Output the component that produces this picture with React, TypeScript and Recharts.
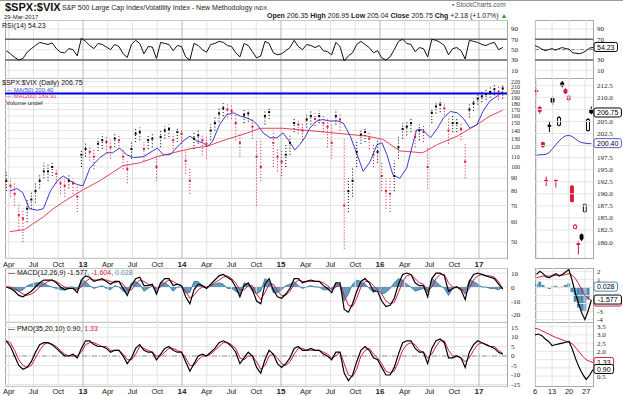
import React from 'react';
import {
  ComposedChart, Line, Scatter, ErrorBar, Area, Bar, Cell,
  XAxis, YAxis, CartesianGrid, ReferenceLine,
} from 'recharts';

const FONT = 'Liberation Sans, Arial, Helvetica, sans-serif';
const RED = '#d8183c';
const BLUE_MA = '#3b3bd0';
const RED_MA = '#e8405a';
const HIST = '#4a8ab5';

const closes = [
  88, 84, 78, 64, 62, 68, 74, 80, 88, 96, 96, 100, 94, 86, 84, 88, 86, 76,
  112, 118, 115, 110, 124, 128, 126, 120, 130, 128, 110, 98, 118, 136, 138, 118, 128, 130, 100, 132, 140, 142, 128, 138,
  136, 106, 88, 130, 134, 128, 124, 140, 150, 164, 172, 170, 168, 150, 125, 162, 164, 145, 110, 100, 160, 166, 125, 110,
  105, 112, 125, 150, 148, 140, 155, 160, 156, 160, 150, 145, 125, 160, 155, 70, 80, 88, 115, 135, 138, 130, 112, 115,
  92, 80, 78, 92, 120, 142, 145, 150, 132, 140, 138, 100, 165, 175, 178, 172, 140, 150, 150, 142, 105, 170, 180, 188,
  192, 196, 200, 205, 200, 206.75,
];
const lows = [
  80, 76, 70, 56, 50, 60, 68, 72, 82, 90, 88, 92, 86, 78, 76, 82, 78, 66,
  100, 110, 106, 98, 116, 118, 114, 108, 120, 118, 98, 86, 108, 126, 128, 106, 118, 120, 88, 120, 130, 132, 118, 126,
  124, 94, 78, 118, 124, 112, 108, 128, 140, 152, 160, 158, 156, 128, 110, 150, 152, 130, 70, 88, 148, 156, 100, 96,
  92, 100, 112, 138, 136, 128, 144, 148, 146, 150, 138, 120, 108, 148, 140, 47, 66, 76, 100, 124, 126, 118, 100, 104,
  80, 68, 66, 80, 108, 130, 134, 138, 120, 128, 126, 82, 150, 164, 166, 162, 124, 138, 138, 128, 90, 158, 168, 178,
  182, 186, 190, 194, 186, 188,
];
const highs = [
  95, 90, 86, 72, 68, 74, 80, 86, 94, 104, 102, 104, 98, 92, 90, 94, 90, 84,
  118, 124, 122, 118, 130, 136, 132, 128, 136, 134, 118, 106, 126, 142, 144, 126, 134, 136, 112, 140, 146, 148, 136, 144,
  142, 116, 100, 138, 140, 136, 132, 148, 158, 172, 180, 178, 176, 162, 136, 170, 170, 156, 128, 130, 168, 172, 140, 120,
  118, 124, 136, 158, 156, 150, 162, 168, 164, 168, 160, 155, 150, 170, 164, 130, 90, 100, 128, 142, 144, 138, 124, 128,
  104, 90, 90, 106, 132, 150, 152, 156, 142, 148, 146, 120, 172, 182, 186, 180, 156, 160, 158, 150, 125, 178, 188, 196,
  202, 206, 210, 214, 212, 212,
];
const rsi = [
  48, 42, 35, 30, 33, 45, 52, 58, 64, 62, 60, 63, 52, 45, 44, 52, 50, 38,
  72, 66, 58, 52, 62, 60, 55, 50, 60, 56, 42, 35, 60, 68, 62, 42, 56, 55, 33, 64, 62, 60, 48, 58,
  56, 36, 30, 62, 58, 50, 45, 60, 62, 66, 64, 58, 56, 44, 36, 62, 58, 46, 34, 38, 66, 62, 44, 40,
  42, 48, 54, 68, 56, 50, 60, 58, 54, 58, 48, 46, 40, 64, 56, 28, 38, 44, 60, 66, 60, 54, 44, 48,
  34, 30, 36, 50, 66, 70, 62, 60, 46, 54, 52, 36, 70, 68, 64, 58, 40, 52, 54, 48, 32, 68, 66, 64,
  60, 58, 62, 64, 50, 54.23,
];
const macd = [
  0, -1, -3, -6, -7, -5, -3, 0, 3, 5, 5, 5, 3, 0, -2, -1, -1, -4,
  5, 8, 7, 4, 5, 6, 4, 2, 4, 4, -1, -6, 1, 6, 7, 1, 1, 2, -5, 3, 6, 6, 1, 2,
  1, -7, -12, -2, 2, 1, -1, 2, 5, 8, 9, 7, 5, 0, -7, 1, 3, -2, -10, -12, 2, 6, -2, -7,
  -8, -5, -1, 6, 6, 3, 4, 5, 4, 4, 1, -1, -4, 3, 3, -16, -18, -12, -3, 4, 6, 3, -3, -3,
  -10, -14, -13, -8, 2, 9, 10, 9, 3, 1, 1, -7, 6, 10, 10, 8, -3, -1, 0, -2, -9, 4, 9, 10,
  9, 8, 7, 6, 2, -1.577,
];
const macdSignal = [
  0, 0, -1, -3, -5, -6, -5, -3, 0, 2, 4, 5, 4, 2, 0, -1, -1, -2,
  0, 4, 6, 5, 5, 5, 5, 4, 3, 4, 2, -2, -2, 2, 5, 4, 2, 1, -1, 0, 3, 5, 4, 2,
  1, -3, -8, -6, -2, 0, 0, 1, 3, 5, 7, 8, 6, 3, -2, -2, 1, 1, -5, -9, -4, 2, 2, -3,
  -6, -6, -3, 2, 5, 4, 4, 4, 4, 4, 3, 1, -2, 0, 2, -6, -13, -14, -8, 0, 4, 4, 1, -2,
  -5, -10, -12, -11, -4, 4, 8, 9, 6, 3, 2, -3, 0, 6, 9, 9, 3, 0, 0, -1, -5, -1, 5, 8,
  9, 8, 8, 7, 4, -1.604,
];
const macdHist = [
  0, -1, -2, -3, -2, 1, 2, 3, 3, 3, 1, 0, -1, -2, -2, 0, 0, -2,
  5, 4, 1, -1, 0, 1, -1, -2, 1, 0, -3, -4, 3, 4, 2, -3, -1, 1, -4, 3, 3, 1, -3, 0,
  0, -4, -4, 4, 4, 1, -1, 1, 2, 3, 2, -1, -1, -3, -5, 3, 2, -3, -5, -3, 6, 4, -4, -4,
  -2, 1, 2, 4, 1, -1, 0, 1, 0, 0, -2, -2, -2, 3, 1, -10, -5, 2, 5, 4, 2, -1, -4, -1,
  -5, -4, -1, 3, 6, 5, 2, 0, -3, -2, -1, -4, 6, 4, 1, -1, -6, -1, 0, -1, -4, 5, 4, 2,
  0, 0, -1, -1, -2, 0.028,
];
const pmo = [
  8, 5, 0, -5, -7, -6, -3, 2, 6, 7, 7, 6, 4, 2, 0, 0, 1, -1,
  4, 8, 8, 6, 5, 5, 4, 2, 3, 3, 0, -4, -1, 4, 6, 3, 2, 2, -2, 1, 4, 5, 3, 2,
  2, -3, -8, -4, 0, 1, 0, 2, 4, 7, 8, 7, 5, 2, -4, -1, 2, 0, -6, -9, -2, 3, 1, -4,
  -6, -4, -1, 4, 5, 3, 3, 4, 3, 3, 1, 0, -2, 2, 2, -9, -13, -10, -3, 3, 5, 3, -1, -2,
  -6, -10, -10, -6, 1, 7, 8, 8, 4, 2, 2, -4, 4, 8, 9, 7, -1, -1, 0, -1, -6, 2, 6, 8,
  7, 6, 5, 4, 2, 0.9,
];
const pmoSignal = [
  8, 7, 3, -2, -5, -6, -5, -1, 3, 6, 7, 6, 5, 3, 1, 0, 0, 0,
  2, 6, 7, 7, 6, 5, 5, 3, 3, 3, 1, -2, -2, 1, 5, 4, 3, 2, 0, 0, 2, 4, 4, 3,
  2, -1, -5, -5, -2, 0, 0, 1, 3, 5, 7, 7, 6, 4, -1, -2, 0, 0, -3, -7, -5, 0, 1, -1,
  -4, -5, -3, 1, 4, 4, 3, 3, 3, 3, 2, 1, -1, 0, 2, -4, -10, -11, -7, 0, 3, 4, 1, -1,
  -4, -8, -9, -8, -3, 3, 6, 7, 6, 3, 2, -1, 1, 5, 8, 8, 3, 0, 0, -1, -3, -1, 3, 6,
  7, 6, 5, 5, 3, 1.33,
];

const ma50Dates = [
  2012.26, 2012.33, 2012.39, 2012.46, 2012.54, 2012.6, 2012.67, 2012.74, 2012.8, 2012.87, 2012.94,
  2013.0, 2013.07, 2013.17, 2013.24, 2013.3, 2013.37, 2013.44, 2013.51, 2013.61, 2013.75, 2013.81, 2013.88, 2013.95,
  2014.01, 2014.08, 2014.15, 2014.21, 2014.26, 2014.31, 2014.38, 2014.45, 2014.52, 2014.59, 2014.66, 2014.72, 2014.76, 2014.82, 2014.89, 2014.96,
  2015.02, 2015.07, 2015.14, 2015.19, 2015.24, 2015.29, 2015.36, 2015.42, 2015.49, 2015.57, 2015.63, 2015.7, 2015.77, 2015.83, 2015.9, 2015.97,
  2016.02, 2016.07, 2016.13, 2016.2, 2016.27, 2016.33, 2016.37, 2016.43, 2016.51, 2016.58, 2016.64, 2016.71, 2016.78, 2016.84, 2016.91, 2016.98,
  2017.04, 2017.11, 2017.18, 2017.24,
];
const ma50Values = [
  80, 82, 79, 68, 67, 68, 80, 88, 92, 88, 85,
  84, 99, 109, 114, 114, 119, 112, 109, 110, 119, 112, 112, 120,
  127, 133, 127, 125, 121, 127, 148, 162, 165, 160, 157, 153, 148, 137, 131, 131,
  137, 129, 117, 123, 131, 143, 153, 155, 153, 153, 150, 133, 112, 96, 105, 123,
  125, 112, 93, 90, 99, 123, 141, 141, 131, 143, 157, 167, 165, 157, 143, 148,
  167, 184, 192, 200.4,
];
const ma200Dates = [
  2012.26, 2012.41, 2012.49, 2012.6, 2012.7, 2012.84, 2013.0, 2013.17, 2013.4, 2013.58, 2013.75, 2013.95,
  2014.11, 2014.25, 2014.45, 2014.66, 2014.79, 2015.02, 2015.36, 2015.7, 2015.87, 2016.03, 2016.2, 2016.43,
  2016.58, 2016.78, 2016.98, 2017.11, 2017.24,
];
const ma200Values = [
  55, 56, 59, 63, 68, 74, 81, 88, 101, 104, 110, 115,
  119, 121, 129, 137, 143, 143, 139, 135, 133, 129, 116, 114,
  123, 133, 148, 160, 169,
];

const quarterTicks = [
  2012.25, 2012.5, 2012.75, 2013, 2013.25, 2013.5, 2013.75, 2014, 2014.25, 2014.5,
  2014.75, 2015, 2015.25, 2015.5, 2015.75, 2016, 2016.25, 2016.5, 2016.75, 2017,
];
const quarterLabels = [
  'Apr', 'Jul', 'Oct', '13', 'Apr', 'Jul', 'Oct', '14', 'Apr', 'Jul',
  'Oct', '15', 'Apr', 'Jul', 'Oct', '16', 'Apr', 'Jul', 'Oct', '17',
];
const priceTicks = [50, 60, 70, 80, 90, 100, 110, 120, 130, 140, 150, 160, 170, 180, 190, 200, 210, 220];
const rsiTicks = [10, 30, 50, 70, 90];
const macdTicks = [-20, -10, 0, 10];
const pmoTicks = [-15, -10, -5, 0, 5, 10, 15];

const days = ['6', '7', '8', '9', '10', '13', '14', '15', '16', '17', '20', '21', '22', '23', '24', '27', '28', '29'];
const dayTicks = ['6', '13', '20', '27'];
const dayOpen = [211.4, 207.9, 200.6, 192.8, 204.2, 209.8, 192.8, 204.2, 213.0, 211.6, 210.2, 191.6, 182.8, 179.7, 181.5, 186.3, 203.1, 207.5];
const dayHigh = [212.0, 208.2, 200.8, 193.6, 205.0, 210.2, 192.9, 206.1, 213.4, 211.9, 210.5, 191.8, 183.7, 180.3, 181.8, 188.0, 205.7, 208.1];
const dayLow = [210.4, 206.6, 199.5, 191.6, 202.8, 208.4, 191.3, 204.0, 212.1, 210.7, 209.2, 188.2, 182.7, 177.4, 180.2, 186.1, 202.9, 206.5];
const dayClose = [211.2, 207.1, 199.8, 192.6, 204.0, 209.0, 192.6, 205.8, 212.4, 210.9, 209.5, 188.4, 183.5, 179.5, 180.6, 187.8, 205.4, 206.75];
const dayKind = ['red', 'red', 'red', 'red', 'black', 'black', 'red', 'hollow', 'black', 'red', 'red', 'red', 'hollowRed', 'red', 'black', 'hollow', 'hollow', 'black'];
const dayMa50 = [198.0, 198.1, 198.1, 198.2, 198.6, 199.4, 200.2, 201.0, 201.6, 202.0, 202.1, 201.9, 201.4, 200.9, 200.6, 200.5, 200.4, 200.4];
const dayRsi = [58, 55, 51, 48, 50, 52, 49, 52, 54, 52, 51, 44, 43, 42, 44, 48, 53, 54.23];
const dayMacd = [1.6, 2.0, 1.7, 1.3, 1.2, 1.5, 1.7, 1.4, 1.6, 1.9, 2.2, 0.9, -0.7, -2.0, -3.2, -4.0, -2.9, -1.577];
const dayMacdSignal = [1.2, 1.3, 1.4, 1.4, 1.4, 1.4, 1.5, 1.5, 1.5, 1.6, 1.7, 1.5, 1.1, 0.5, -0.3, -1.0, -1.4, -1.604];
const dayMacdHist = [0.4, 0.7, 0.3, -0.1, -0.2, 0.1, 0.2, -0.1, 0.1, 0.3, 0.5, -0.6, -1.8, -2.5, -2.9, -3.0, -1.5, 0.028];
const dayPmo = [3.0, 3.05, 2.95, 2.75, 2.6, 2.35, 2.4, 2.45, 2.5, 2.55, 2.6, 2.1, 1.5, 1.0, 0.6, 0.3, 0.55, 0.9];
const dayPmoSignal = [3.4, 3.35, 3.25, 3.15, 3.05, 2.95, 2.85, 2.78, 2.7, 2.62, 2.55, 2.45, 2.2, 1.95, 1.7, 1.5, 1.4, 1.33];
const miniRsiLabels = [10, 30, 70, 90];
const miniPriceGrid = [180, 182.5, 185, 187.5, 190, 192.5, 195, 197.5, 200, 202.5, 205, 207.5, 210, 212.5];
const miniPriceLabels = [180, 182.5, 185, 187.5, 190, 192.5, 195, 197.5, 202.5, 205, 210, 212.5];
const miniMacdGrid = [-4, -3, -2, -1, 0, 1, 2];
const miniMacdLabels = [-4, -3, 1, 2];
const miniPmoGrid = [0.5, 1, 1.5, 2, 2.5, 3, 3.5];
const miniPmoLabels = [0.5, 2, 2.5, 3, 3.5];

const X_DOMAIN = [2012.212, 2017.283];
const T_FIRST = 2012.225;
const T_LAST = 2017.24;
const dates = closes.map((_, i) => T_FIRST + (i * (T_LAST - T_FIRST)) / (closes.length - 1));

const longRows = dates.map((t, i) => ({
  t, rsi: rsi[i], macd: macd[i], sig: macdSignal[i], hist: macdHist[i], pmo: pmo[i], pmoSig: pmoSignal[i],
}));
const upPts: any[] = [];
const downPts: any[] = [];
closes.forEach((c, i) => {
  const row = { t: dates[i], v: c, err: [c - lows[i], highs[i] - c] };
  if (i > 0 && c < closes[i - 1]) downPts.push(row);
  else upPts.push(row);
});
const ma50Rows = ma50Dates.map((t, i) => ({ t, v: ma50Values[i] }));
const ma200Rows = ma200Dates.map((t, i) => ({ t, v: ma200Values[i] }));

const miniRows = days.map((d, i) => ({
  day: d,
  wick: [dayLow[i], dayHigh[i]],
  body: [Math.min(dayOpen[i], dayClose[i]), Math.max(dayOpen[i], dayClose[i])],
  kind: dayKind[i],
  ma: dayMa50[i], rsi: dayRsi[i], macd: dayMacd[i], sig: dayMacdSignal[i], hist: dayMacdHist[i],
  pmo: dayPmo[i], pmoSig: dayPmoSignal[i],
}));

const candleFill = (s: string) => (s === 'red' ? RED : s === 'black' ? '#000' : '#fff');
const candleStroke = (s: string) => (s === 'red' || s === 'hollowRed' ? RED : '#000');

const LEFT = 5;
const PLOT_R = 507;
const LONG_W = 535;
const LONG_AXIS = LONG_W - PLOT_R;
const MINI_X = 529;
const MINI_PAD = 6;
const MINI_W = 94;
const MINI_AXIS = 30;
const MINI_PLOT_W = MINI_W - MINI_AXIS - MINI_PAD;

const PANELS = [
  { top: 20, h: 58 },
  { top: 78, h: 180 },
  { top: 268, h: 54 },
  { top: 322, h: 64 },
];

class Guard extends React.Component<any, any> {
  constructor(props: any) { super(props); this.state = { err: null }; }
  static getDerivedStateFromError(err: any) { return { err }; }
  render() {
    if (this.state.err) {
      return <div style={{ fontSize: 9, color: 'red', background: '#fee' }}>{this.props.name}: {String(this.state.err && this.state.err.message).slice(0, 80)}</div>;
    }
    return this.props.children;
  }
}

function QuarterTick(props: any) {
  const { x, y, payload, off } = props;
  const i = quarterTicks.findIndex((q) => Math.abs(q - payload.value) < 1e-6);
  const label = i >= 0 ? quarterLabels[i] : '';
  const bold = /^\d/.test(label);
  return (
    <text x={x} y={y + off} textAnchor="middle" fontSize={bold ? 8 : 7.5} fontWeight={bold ? 700 : 400}
      fill="#222" fontFamily={FONT}>{label}</text>
  );
}
function DayTick(props: any) {
  const { x, y, payload, off } = props;
  return (
    <text x={x} y={y + off} textAnchor="middle" fontSize={7.5} fill="#222" fontFamily={FONT}>{payload.value}</text>
  );
}
function ValueBox(props: any) {
  const { viewBox, text, color, under } = props;
  if (!viewBox) return null;
  const x = viewBox.x + viewBox.width + 1;
  const y = viewBox.y;
  const w = text.length * 3.9 + 4;
  return (
    <g>
      {under ? <rect x={x} y={y - 3} width={w} height={9} rx={2} fill="#fff" stroke={under} strokeWidth={1} /> : null}
      <rect x={x} y={y - 5} width={w} height={9} rx={2} fill="#fff" stroke={color} strokeWidth={1} />
      <text x={x + w / 2} y={y + 2.3} textAnchor="middle" fontSize={7} fontFamily={FONT} fill="#000">{text}</text>
    </g>
  );
}
const RedDot = (p: any) => <rect x={p.cx - 1} y={p.cy - 1} width={2} height={2} fill={RED} />;
const BlackDot = (p: any) => <rect x={p.cx - 1} y={p.cy - 1} width={2} height={2} fill="#000" />;

const yTick = { fontSize: 7, fill: '#222' };
const yTickSmall = { fontSize: 6, fill: '#222' };

const vGrid = () =>
  quarterTicks.map((t, i) => (
    <ReferenceLine key={'vg' + i} x={t} stroke={/^\d/.test(quarterLabels[i]) ? '#b8b8b8' : '#e2e2e2'}
      strokeWidth={1} />
  ));
const miniVGrid = () =>
  dayTicks.map((d) => <ReferenceLine key={'mg' + d} xAxisId="w" x={d} stroke="#e2e2e2" strokeWidth={1} />);
const miniHGrid = (levels: number[], k: string) =>
  levels.map((v) => <ReferenceLine key={k + v} xAxisId="w" y={v} stroke="#e6e6e6" />);

function Txt(props: any) {
  const s = Object.assign({ position: 'absolute', whiteSpace: 'nowrap', fontFamily: FONT, lineHeight: 1 }, props.css);
  return <div style={s}>{props.children}</div>;
}
function Border(props: any) {
  return (
    <div style={{ position: 'absolute', left: props.left, top: props.top, width: props.width, height: props.height, boxSizing: 'border-box', border: '1px solid #a8a8a8' }} />
  );
}
function Abs(props: any) {
  return <div style={{ position: 'absolute', left: props.left, top: props.top }}>{props.children}</div>;
}

const longMargin = { top: 0, right: 0, bottom: 0, left: LEFT };
const miniMargin = { top: 0, right: 0, bottom: 0, left: MINI_PAD };

function RsiLong() {
  return (
    <ComposedChart width={LONG_W} height={PANELS[0].h} data={longRows} margin={longMargin}>
      <CartesianGrid vertical={false} stroke="#e6e6e6" />
      <XAxis type="number" dataKey="t" domain={X_DOMAIN} allowDataOverflow hide />
      <YAxis orientation="right" width={LONG_AXIS} domain={[-4.8, 107.3]} allowDataOverflow ticks={rsiTicks}
        interval={0} tick={yTick} tickLine={false} axisLine={false} tickSize={0} tickMargin={4} />
      {vGrid()}
      <ReferenceLine y={70} stroke="#666" strokeWidth={1.4} />
      <ReferenceLine y={30} stroke="#666" strokeWidth={1.4} />
      <Line dataKey="rsi" stroke="#111" strokeWidth={1} dot={false} isAnimationActive={false} />
    </ComposedChart>
  );
}
function RsiMini() {
  return (
    <ComposedChart width={MINI_W} height={PANELS[0].h} data={miniRows} margin={miniMargin}>
      <XAxis xAxisId="w" dataKey="day" hide />
      <YAxis orientation="right" width={MINI_AXIS} domain={[-4.8, 107.3]} allowDataOverflow ticks={miniRsiLabels}
        interval={0} tick={yTick} tickLine={false} axisLine={false} tickSize={0} tickMargin={4} />
      {miniHGrid(rsiTicks, 'rg')}
      {miniVGrid()}
      <ReferenceLine xAxisId="w" y={70} stroke="#666" strokeWidth={1.4} />
      <ReferenceLine xAxisId="w" y={30} stroke="#666" strokeWidth={1.4} />
      <ReferenceLine xAxisId="w" y={50} stroke="#888" strokeDasharray="4 2 1 2" />
      <Line xAxisId="w" dataKey="rsi" stroke="#111" strokeWidth={1} dot={false} isAnimationActive={false} />
      <ReferenceLine xAxisId="w" y={54.23} stroke="none" label={<ValueBox text="54.23" color="#000" />} />
    </ComposedChart>
  );
}
function MainLong() {
  return (
    <ComposedChart width={LONG_W} height={PANELS[1].h + 14} margin={longMargin}>
      <CartesianGrid vertical={false} stroke="#e6e6e6" />
      <XAxis type="number" dataKey="t" domain={X_DOMAIN} allowDataOverflow ticks={quarterTicks} interval={0}
        tick={<QuarterTick off={9} />} tickLine={false} axisLine={false} tickSize={0} tickMargin={0} height={14} />
      <YAxis orientation="right" width={LONG_AXIS} scale="log" domain={[43.1, 227.6]} allowDataOverflow
        ticks={priceTicks} interval={0} tick={yTickSmall} tickLine={false} axisLine={false} tickSize={0} tickMargin={4} />
      {vGrid()}
      <Line data={ma200Rows} dataKey="v" stroke={RED_MA} strokeWidth={1} dot={false} isAnimationActive={false} />
      <Line data={ma50Rows} dataKey="v" stroke={BLUE_MA} strokeWidth={1} dot={false} isAnimationActive={false} />
      <Scatter data={downPts} dataKey="v" isAnimationActive={false} fill={RED} shape={RedDot}>
        <ErrorBar dataKey="err" direction="y" width={0} stroke={RED} strokeWidth={1} strokeDasharray="1 2" />
      </Scatter>
      <Scatter data={upPts} dataKey="v" isAnimationActive={false} fill="#000" shape={BlackDot}>
        <ErrorBar dataKey="err" direction="y" width={0} stroke="#000" strokeWidth={1} strokeDasharray="1 2" />
      </Scatter>
      <ReferenceLine y={197} stroke="#0000f0" strokeWidth={2} />
    </ComposedChart>
  );
}
function MainMini() {
  return (
    <ComposedChart width={MINI_W} height={PANELS[1].h + 14} data={miniRows} margin={miniMargin}>
      <XAxis xAxisId="w" dataKey="day" ticks={dayTicks} interval={0} tick={<DayTick off={9} />}
        tickLine={false} axisLine={false} tickSize={0} tickMargin={0} height={14} />
      <XAxis xAxisId="b" dataKey="day" hide />
      <YAxis orientation="right" width={MINI_AXIS} domain={[176.7, 214]} allowDataOverflow ticks={miniPriceLabels}
        interval={0} tick={yTick} tickFormatter={(v: number) => v.toFixed(1)} tickLine={false} axisLine={false}
        tickSize={0} tickMargin={4} />
      {miniHGrid(miniPriceGrid, 'pg')}
      {miniVGrid()}
      <Line xAxisId="w" dataKey="ma" stroke={BLUE_MA} strokeWidth={1} dot={false} isAnimationActive={false} />
      <Bar xAxisId="w" dataKey="wick" barSize={1} isAnimationActive={false}>
        {miniRows.map((r, i) => <Cell key={'w' + i} fill={candleStroke(r.kind)} />)}
      </Bar>
      <Bar xAxisId="b" dataKey="body" barSize={4} isAnimationActive={false}>
        {miniRows.map((r, i) => (
          <Cell key={'c' + i} fill={candleFill(r.kind)} stroke={candleStroke(r.kind)} strokeWidth={1} />
        ))}
      </Bar>
      <ReferenceLine xAxisId="w" y={200.4} stroke="none" label={<ValueBox text="200.40" color="#5a5ad0" />} />
      <ReferenceLine xAxisId="w" y={206.75} stroke="none" label={<ValueBox text="206.75" color="#000" />} />
    </ComposedChart>
  );
}
function MacdLong() {
  return (
    <ComposedChart width={LONG_W} height={PANELS[2].h} data={longRows} margin={longMargin}>
      <CartesianGrid vertical={false} stroke="#e6e6e6" />
      <XAxis type="number" dataKey="t" domain={X_DOMAIN} allowDataOverflow hide />
      <YAxis orientation="right" width={LONG_AXIS} domain={[-25, 13.6]} allowDataOverflow ticks={macdTicks}
        interval={0} tick={yTick} tickLine={false} axisLine={false} tickSize={0} tickMargin={4} />
      {vGrid()}
      <Area dataKey="hist" baseValue={0} stroke="#2f6f98" strokeWidth={0.8} fill={HIST} fillOpacity={0.85}
        isAnimationActive={false} />
      <Line dataKey="sig" stroke={RED} strokeWidth={1} dot={false} isAnimationActive={false} />
      <Line dataKey="macd" stroke="#000" strokeWidth={1.2} dot={false} isAnimationActive={false} />
    </ComposedChart>
  );
}
function MacdMini() {
  return (
    <ComposedChart width={MINI_W} height={PANELS[2].h} data={miniRows} margin={miniMargin}>
      <XAxis xAxisId="w" dataKey="day" hide />
      <YAxis orientation="right" width={MINI_AXIS} domain={[-4.3, 2.4]} allowDataOverflow ticks={miniMacdLabels}
        interval={0} tick={yTick} tickLine={false} axisLine={false} tickSize={0} tickMargin={4} />
      {miniHGrid(miniMacdGrid, 'cg')}
      {miniVGrid()}
      <Bar xAxisId="w" dataKey="hist" barSize={3} fill={HIST} isAnimationActive={false} />
      <Line xAxisId="w" dataKey="sig" stroke={RED} strokeWidth={1} dot={false} isAnimationActive={false} />
      <Line xAxisId="w" dataKey="macd" stroke="#000" strokeWidth={1.2} dot={false} isAnimationActive={false} />
      <ReferenceLine xAxisId="w" y={0.028} stroke="none" label={<ValueBox text="0.028" color={HIST} />} />
      <ReferenceLine xAxisId="w" y={-1.577} stroke="none" label={<ValueBox text="-1.577" color="#000" under={RED} />} />
    </ComposedChart>
  );
}
function PmoLong() {
  return (
    <ComposedChart width={LONG_W} height={PANELS[3].h + 12} data={longRows} margin={longMargin}>
      <CartesianGrid vertical={false} stroke="#e6e6e6" />
      <XAxis type="number" dataKey="t" domain={X_DOMAIN} allowDataOverflow ticks={quarterTicks} interval={0}
        tick={<QuarterTick off={8} />} tickLine={false} axisLine={false} tickSize={0} tickMargin={0} height={12} />
      <YAxis orientation="right" width={LONG_AXIS} domain={[-15.8, 17.9]} allowDataOverflow ticks={pmoTicks}
        interval={0} tick={yTick} tickLine={false} axisLine={false} tickSize={0} tickMargin={4} />
      {vGrid()}
      <ReferenceLine y={0} stroke="#999" strokeDasharray="5 2 1 2" />
      <Line dataKey="pmoSig" stroke={RED} strokeWidth={1} dot={false} isAnimationActive={false} />
      <Line dataKey="pmo" stroke="#000" strokeWidth={1.2} dot={false} isAnimationActive={false} />
    </ComposedChart>
  );
}
function PmoMini() {
  return (
    <ComposedChart width={MINI_W} height={PANELS[3].h + 12} data={miniRows} margin={miniMargin}>
      <XAxis xAxisId="w" dataKey="day" ticks={dayTicks} interval={0} tick={<DayTick off={8} />}
        tickLine={false} axisLine={false} tickSize={0} tickMargin={0} height={12} />
      <YAxis orientation="right" width={MINI_AXIS} domain={[-0.1, 3.78]} allowDataOverflow ticks={miniPmoLabels}
        interval={0} tick={yTick} tickFormatter={(v: number) => v.toFixed(1)} tickLine={false} axisLine={false}
        tickSize={0} tickMargin={4} />
      {miniHGrid(miniPmoGrid, 'og')}
      {miniVGrid()}
      <Line xAxisId="w" dataKey="pmoSig" stroke={RED} strokeWidth={1} dot={false} isAnimationActive={false} />
      <Line xAxisId="w" dataKey="pmo" stroke="#000" strokeWidth={1.2} dot={false} isAnimationActive={false} />
      <ReferenceLine xAxisId="w" y={1.33} stroke="none" label={<ValueBox text="1.33" color={RED} />} />
      <ReferenceLine xAxisId="w" y={0.9} stroke="none" label={<ValueBox text="0.90" color="#000" />} />
    </ComposedChart>
  );
}

export default function App() {
  const mx = MINI_X + MINI_PAD;
  return (
    <div style={{ position: 'absolute', left: 0, top: 0, width: 623, height: 396, background: '#fff', overflow: 'hidden' }}>
      <div style={{ position: 'absolute', left: 0, top: 0, width: 623, height: 1, background: '#9a9a9a' }} />
      <Txt css={{ left: 5, top: 1.5, fontSize: 11, fontWeight: 700, color: '#111' }}>$SPX:$VIX</Txt>
      <Txt css={{ left: 62, top: 4, fontSize: 7, color: '#222' }}>
        {'S&P 500 Large Cap Index/Volatility Index - New Methodology '}<span style={{ fontSize: 5.5 }}>INDX</span>
      </Txt>
      <Txt css={{ left: 4, top: 13.5, fontSize: 6, color: '#222' }}>29-Mar-2017</Txt>
      <Txt css={{ left: 452, top: 2, fontSize: 6.5, color: '#555' }}>▪ StockCharts.com</Txt>
      <Txt css={{ left: 267, top: 12, fontSize: 7, color: '#222' }}>
        <b>Open</b> 206.35 <b>High</b> 206.95 <b>Low</b> 205.04 <b>Close</b> 205.75 <b>Chg</b> +2.18 (+1.07%){' '}
        <span style={{ color: '#2a9a2a' }}>▲</span>
      </Txt>

      {PANELS.map((p, i) => (
        <React.Fragment key={'b' + i}>
          <Border left={LEFT} top={p.top} width={PLOT_R - LEFT + 1} height={p.h + 1} />
          <Border left={mx} top={p.top} width={MINI_PLOT_W + 1} height={p.h + 1} />
        </React.Fragment>
      ))}

      <Abs left={0} top={PANELS[0].top}><Guard name="rsiL"><RsiLong /></Guard></Abs>
      <Abs left={MINI_X} top={PANELS[0].top}><Guard name="rsiM"><RsiMini /></Guard></Abs>
      <Abs left={0} top={PANELS[1].top}><Guard name="mainL"><MainLong /></Guard></Abs>
      <Abs left={MINI_X} top={PANELS[1].top}><Guard name="mainM"><MainMini /></Guard></Abs>
      <Abs left={0} top={PANELS[2].top}><Guard name="macdL"><MacdLong /></Guard></Abs>
      <Abs left={MINI_X} top={PANELS[2].top}><Guard name="macdM"><MacdMini /></Guard></Abs>
      <Abs left={0} top={PANELS[3].top}><Guard name="pmoL"><PmoLong /></Guard></Abs>
      <Abs left={MINI_X} top={PANELS[3].top}><Guard name="pmoM"><PmoMini /></Guard></Abs>

      <Txt css={{ left: 2, top: 21.5, fontSize: 7, color: '#111' }}>RSI(14) 54.23</Txt>
      <Txt css={{ left: 2, top: 79, fontSize: 7, color: '#111' }}>$SPX:$VIX (Daily) 206.75</Txt>
      <Txt css={{ left: 6, top: 86.5, fontSize: 6, color: BLUE_MA }}>— MA(50) 200.40</Txt>
      <Txt css={{ left: 6, top: 93, fontSize: 6, color: RED_MA }}>— MA(200) 169.91</Txt>
      <Txt css={{ left: 6, top: 99.5, fontSize: 6, color: '#222' }}>Volume undef</Txt>
      <Txt css={{ left: 8, top: 268.5, fontSize: 7, color: '#111' }}>
        — MACD(12,26,9) -1.577, <span style={{ color: RED }}>-1.604</span>, <span style={{ color: HIST }}>0.028</span>
      </Txt>
      <Txt css={{ left: 8, top: 325, fontSize: 7, color: '#111' }}>
        — PMO(35,20,10) 0.90, <span style={{ color: RED }}>1.33</span>
      </Txt>
    </div>
  );
}
